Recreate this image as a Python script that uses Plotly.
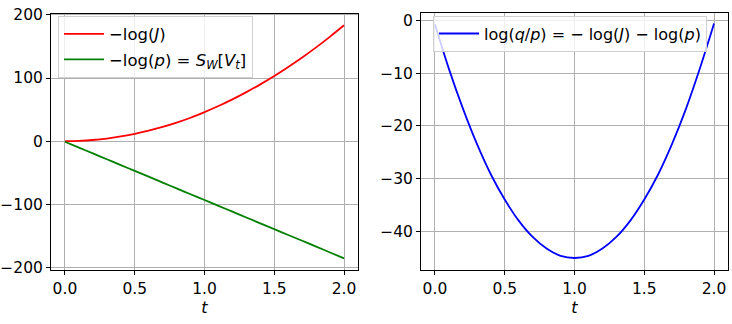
import plotly.graph_objects as go

# values, t = 0.0 .. 2.0 in steps of 0.1
t = [0.0, 0.1, 0.2, 0.3, 0.4, 0.5, 0.6, 0.7, 0.8, 0.9, 1.0,
     1.1, 1.2, 1.3, 1.4, 1.5, 1.6, 1.7, 1.8, 1.9, 2.0]
neg_log_J = [0.0, 0.5, 1.8, 4.1, 7.4, 11.4, 16.5, 22.4, 29.3, 37.1, 46.0,
             55.6, 66.2, 77.7, 90.0, 103.2, 117.5, 132.6, 148.6, 165.7, 183.6]
neg_log_p = [-1.0, -10.2, -19.5, -28.7, -38.0, -47.2, -56.4, -65.7, -74.9, -84.2, -93.4,
             -102.6, -111.8, -121.1, -130.3, -139.5, -148.8, -158.0, -167.2, -176.5, -185.8]
log_q_p = [-0.8, -9.2, -16.7, -23.4, -29.2, -34.0, -38.0, -41.1, -43.3, -44.7, -45.1,
           -44.7, -43.3, -41.1, -38.0, -34.0, -29.2, -23.4, -16.7, -9.0, -0.6]

left_ticks = [-200, -100, 0, 100, 200]
right_ticks = [-40, -30, -20, -10, 0]
x_ticks = [0.0, 0.5, 1.0, 1.5, 2.0]

font = "DejaVu Sans"

fig = go.Figure()

fig.add_trace(go.Scatter(x=t, y=neg_log_J, mode="lines", line_shape="spline",
                         line=dict(color="red", width=1.8), legendgroup="a",
                         name="\u2212log(<i>J</i>)", xaxis="x", yaxis="y", legend="legend"))
fig.add_trace(go.Scatter(x=t, y=neg_log_p, mode="lines", line_shape="spline",
                         line=dict(color="green", width=1.8), legendgroup="b",
                         name="\u2212log(<i>p</i>) = <i>S<sub>W</sub></i>[<i>V<sub>t</sub></i>]",
                         xaxis="x", yaxis="y", legend="legend"))
fig.add_trace(go.Scatter(x=t, y=log_q_p, mode="lines", line_shape="spline",
                         line=dict(color="blue", width=1.8),
                         name="log(<i>q</i>/<i>p</i>) = \u2212 log(<i>J</i>) \u2212 log(<i>p</i>)",
                         xaxis="x2", yaxis="y2", legend="legend2"))

axis_style = dict(showline=True, mirror=True, linecolor="black", linewidth=1,
                  showgrid=True, gridcolor="#b0b0b0", gridwidth=0.8,
                  ticks="outside", ticklen=4, tickcolor="black",
                  tickfont=dict(family=font, size=15.5, color="black"),
                  zeroline=False)

fig.update_layout(
    width=732, height=324,
    margin=dict(l=0, r=0, t=0, b=0),
    plot_bgcolor="white", paper_bgcolor="white",
    font=dict(family=font, size=15, color="black"),
    xaxis=dict(domain=[51/732, 358/732], range=[-0.1, 2.1], tickvals=x_ticks,
               ticktext=["0.0", "0.5", "1.0", "1.5", "2.0"], anchor="y",
               title=dict(text="<i>t</i>", standoff=2, font=dict(size=16)), **axis_style),
    yaxis=dict(domain=[1-275/324, 1-7/324], range=[-204.5, 202], tickvals=left_ticks,
               ticktext=["\u2212200", "\u2212100", "0", "100", "200"], anchor="x", **axis_style),
    xaxis2=dict(domain=[421/732, 728/732], range=[-0.1, 2.1], tickvals=x_ticks,
                ticktext=["0.0", "0.5", "1.0", "1.5", "2.0"], anchor="y2",
                title=dict(text="<i>t</i>", standoff=2, font=dict(size=16)), **axis_style),
    yaxis2=dict(domain=[1-275/324, 1-6/324], range=[-47.4, 1.45], tickvals=right_ticks,
                ticktext=["\u221240", "\u221230", "\u221220", "\u221210", "0"], anchor="x2", **axis_style),
    legend=dict(x=58/732, y=1-9/324, xanchor="left", yanchor="top",
                bgcolor="rgba(255,255,255,0.8)", bordercolor="#d0d0d0", borderwidth=1,
                itemwidth=40, tracegroupgap=1,
                font=dict(family=font, size=16.5)),
    legend2=dict(x=433/732, y=1-9/324, xanchor="left", yanchor="top",
                 bgcolor="rgba(255,255,255,0.8)", bordercolor="#d0d0d0", borderwidth=1,
                 itemwidth=40,
                 font=dict(family=font, size=16)),
)

# the page body has a default 8px margin; drop it so the figure fills the window
fig.write_html("out.html", config={"displayModeBar": False},
               post_script="document.body.style.margin='0';")
